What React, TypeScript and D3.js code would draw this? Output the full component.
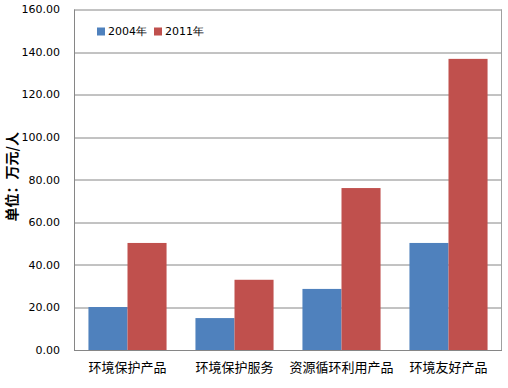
import * as d3 from 'd3';
import React, { useRef, useEffect } from 'react';

const categories = ['环境保护产品', '环境保护服务', '资源循环利用产品', '环境友好产品'];
const series = ['2004年', '2011年'];
const values2004 = [20.2, 15.0, 28.7, 50.3];
const values2011 = [50.3, 33.0, 76.1, 136.8];
const yTicks = [0, 20, 40, 60, 80, 100, 120, 140, 160];
const colors = ['#4F81BD', '#C0504D'];

const width = 508, height = 388;
const margin = { top: 9.5, right: 6, bottom: 38, left: 74 };

function App() {
    const ref = useRef<SVGSVGElement>(null);

    useEffect(() => {
        const svg = d3.select(ref.current);
        svg.selectAll('*').remove();

        const innerW = width - margin.left - margin.right;
        const innerH = height - margin.top - margin.bottom;
        const g = svg.append('g').attr('transform', `translate(${margin.left},${margin.top})`);

        const x0 = d3.scaleBand().domain(categories).range([0, innerW]).paddingInner(0.27).paddingOuter(0.135);
        const x1 = d3.scaleBand().domain(series).range([0, x0.bandwidth()]);
        const y = d3.scaleLinear().domain([0, 160]).range([innerH, 0]);

        // gridlines
        g.selectAll('.grid').data(yTicks.slice(1)).enter().append('line')
            .attr('x1', 0).attr('x2', innerW)
            .attr('y1', d => Math.round(y(d)) + 0.5).attr('y2', d => Math.round(y(d)) + 0.5)
            .attr('stroke', '#868686').attr('stroke-width', 1);

        const data = categories.map((c, i) => ({ c, vals: [values2004[i], values2011[i]] }));
        const grp = g.selectAll('.cat').data(data).enter().append('g')
            .attr('transform', d => `translate(${x0(d.c)},0)`);
        grp.selectAll('rect').data(d => d.vals.map((v, j) => ({ v, s: series[j], j }))).enter().append('rect')
            .attr('x', d => x1(d.s)!)
            .attr('y', d => y(d.v))
            .attr('width', x1.bandwidth())
            .attr('height', d => innerH - y(d.v))
            .attr('fill', d => colors[d.j]);

        // plot frame (left, bottom, right)
        g.append('line').attr('x1', 0.5).attr('x2', 0.5).attr('y1', 0).attr('y2', innerH).attr('stroke', '#868686');
        g.append('line').attr('x1', 0).attr('x2', innerW).attr('y1', innerH + 0.5).attr('y2', innerH + 0.5).attr('stroke', '#868686');
        g.append('line').attr('x1', innerW - 0.5).attr('x2', innerW - 0.5).attr('y1', 0).attr('y2', innerH).attr('stroke', '#A0A0A0');

        // y tick labels
        g.selectAll('.ylab').data(yTicks).enter().append('text')
            .attr('x', -14).attr('y', d => y(d)).attr('dy', '0.35em')
            .attr('text-anchor', 'end')
            .style('font-family', 'DejaVu Sans, Verdana, sans-serif').style('font-size', '11px').attr('fill', '#000')
            .text(d => d3.format('.2f')(d));

        // x labels
        g.selectAll('.xlab').data(categories).enter().append('text')
            .attr('x', d => x0(d)! + x0.bandwidth() / 2).attr('y', innerH + 22)
            .attr('text-anchor', 'middle')
            .style('font-family', 'Noto Sans CJK SC, sans-serif').style('font-size', '13px').attr('fill', '#000')
            .text(d => d);

        // y title
        svg.append('text')
            .attr('transform', `translate(17,${margin.top + innerH / 2 - 3}) rotate(-90)`)
            .attr('text-anchor', 'middle')
            .style('font-family', 'Noto Sans CJK SC, sans-serif').style('font-size', '14px').style('font-weight', 'bold')
            .text('单位：万元/人');

        // legend
        const leg = svg.append('g').attr('transform', 'translate(97,31)');
        const legX = [0, 57];
        series.forEach((s, i) => {
            leg.append('rect').attr('x', legX[i]).attr('y', -3.5).attr('width', 8).attr('height', 8).attr('fill', colors[i]);
            leg.append('text').attr('x', legX[i] + 11).attr('y', 0).attr('dy', '0.35em')
                .style('font-family', 'DejaVu Sans, sans-serif').style('font-size', '11px')
                .text(s);
        });
    }, []);

    return (
        <svg ref={ref} width={width} height={height}
            style={{ position: 'absolute', left: 0, top: 0, background: '#fff' }}></svg>
    );
}

export default App;
